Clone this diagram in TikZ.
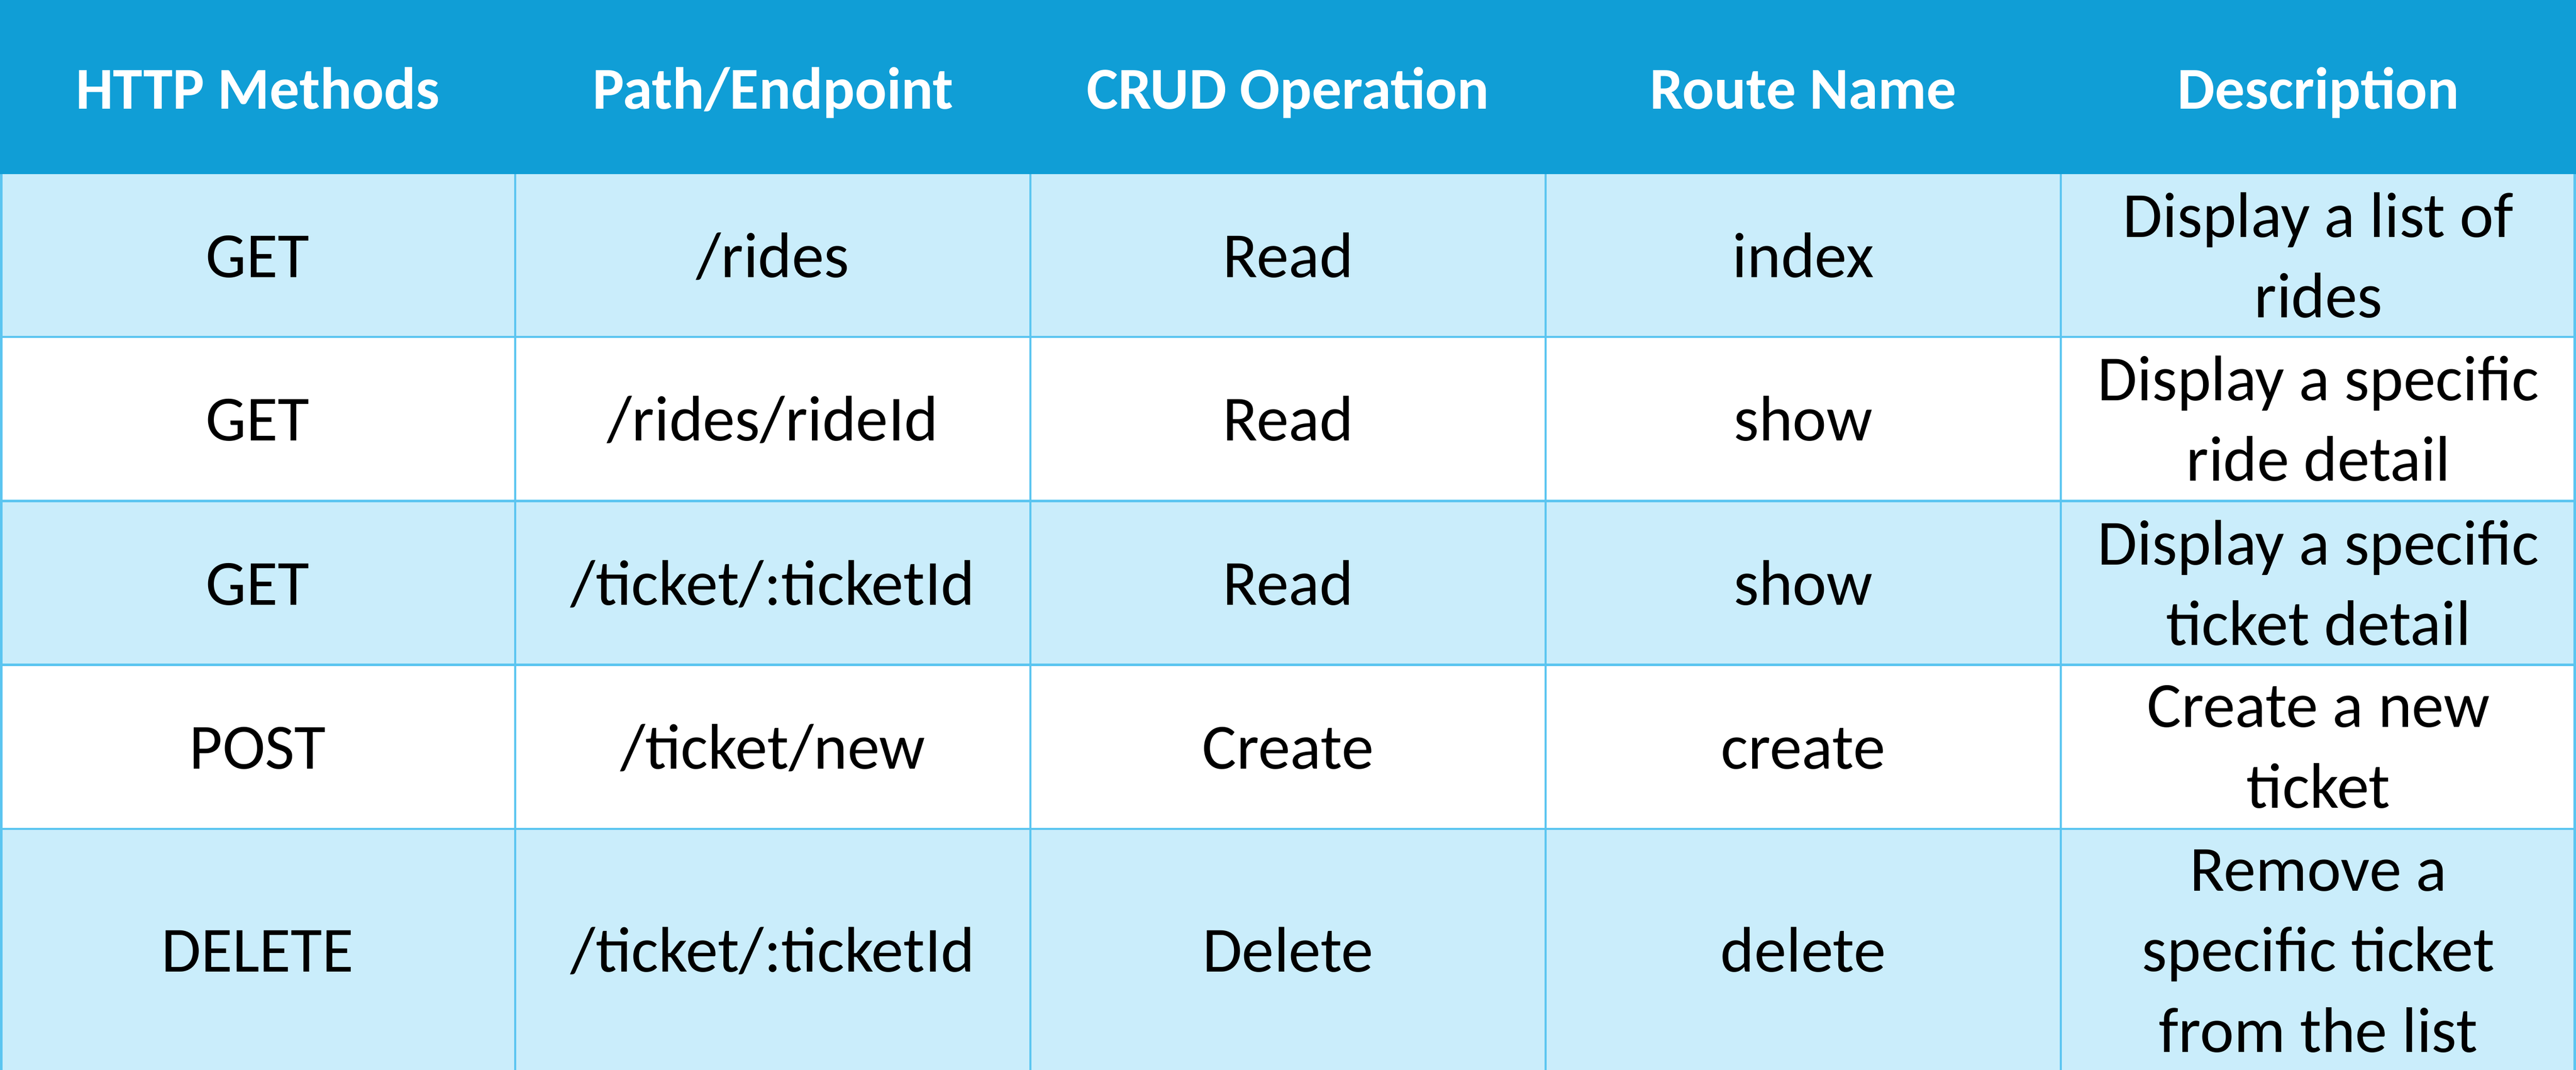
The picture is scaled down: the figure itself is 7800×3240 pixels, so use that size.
\documentclass[tikz,border=0pt]{standalone}
\usepackage{fontspec}
\setmainfont{Carlito}
\definecolor{hdr}{HTML}{109ED6}
\definecolor{lite}{HTML}{CAEDFB}
\definecolor{gridc}{HTML}{5BC5F0}
\begin{document}
\begin{tikzpicture}[x=0.1pt,y=-0.1pt,
  hcell/.style={text=white,font=\fontsize{18}{22}\selectfont\bfseries,anchor=base,inner sep=0pt},
  scell/.style={text=black,font=\fontsize{19.5}{24.4}\selectfont,anchor=base,inner sep=0pt},
  bcell/.style={text=black,font=\fontsize{19.5}{24.4}\selectfont,align=center,anchor=center,inner sep=0pt},
  gline/.style={draw=gridc,line width=0.7pt}]
\useasboundingbox (0,0) rectangle (7800,3240);
% backgrounds
\fill[hdr] (0,0) rectangle (7800,527);
\fill[lite] (0,527) rectangle (7800,1020);
\fill[white] (0,1020) rectangle (7800,1517);
\fill[lite] (0,1517) rectangle (7800,2013);
\fill[white] (0,2013) rectangle (7800,2510);
\fill[lite] (0,2510) rectangle (7800,3240);
% grid
\foreach \yy in {1020,1517,2013,2510} \draw[gline] (0,\yy) -- (7800,\yy);
\foreach \xx in {4,1560,3120,4680,6240,7796} \draw[gline] (\xx,527) -- (\xx,3240);
% header
\node[hcell] (h1) at (780,330) {HTTP Methods};
\node[hcell] (h2) at (2340,330) {Path/Endpoint};
\node[hcell] (h3) at (3900,330) {CRUD Operation};
\node[hcell] (h4) at (5460,330) {Route Name};
\node[hcell] (h5) at (7020,330) {Description};
% row 1
\node[scell] (r1c1) at (780,840) {GET};
\node[scell] (r1c2) at (2340,840) {/rides};
\node[scell] (r1c3) at (3900,840) {Read};
\node[scell] (r1c4) at (5460,840) {index};
\node[bcell] (r1c5) at (7020,773) {Display a list of\\rides};
% row 2
\node[scell] (r2c1) at (780,1335) {GET};
\node[scell] (r2c2) at (2340,1335) {/rides/rideId};
\node[scell] (r2c3) at (3900,1335) {Read};
\node[scell] (r2c4) at (5460,1335) {show};
\node[bcell] (r2c5) at (7020,1268) {Display a specific\\ride detail};
% row 3
\node[scell] (r3c1) at (780,1832) {GET};
\node[scell] (r3c2) at (2340,1832) {/ticket/:ticketId};
\node[scell] (r3c3) at (3900,1832) {Read};
\node[scell] (r3c4) at (5460,1832) {show};
\node[bcell] (r3c5) at (7020,1765) {Display a specific\\ticket detail};
% row 4
\node[scell] (r4c1) at (780,2329) {POST};
\node[scell] (r4c2) at (2340,2329) {/ticket/new};
\node[scell] (r4c3) at (3900,2329) {Create};
\node[scell] (r4c4) at (5460,2329) {create};
\node[bcell] (r4c5) at (7020,2262) {Create a new\\ticket};
% row 5
\node[scell] (r5c1) at (780,2943) {DELETE};
\node[scell] (r5c2) at (2340,2943) {/ticket/:ticketId};
\node[scell] (r5c3) at (3900,2943) {Delete};
\node[scell] (r5c4) at (5460,2943) {delete};
\node[bcell] (r5c5) at (7020,2880) {Remove a\\specific ticket\\from the list};
\end{tikzpicture}
\end{document}
